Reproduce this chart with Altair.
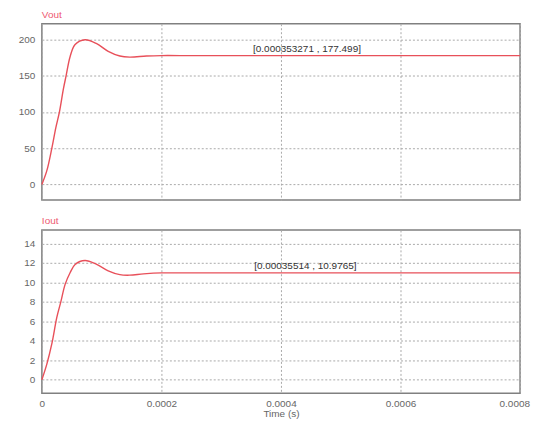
import altair as alt
import pandas as pd

# Vout waveform (time in s, volts)
vout_t = [0, 0.0000083, 0.0000167, 0.0000233, 0.0000294, 0.0000361, 0.0000406,
          0.0000472, 0.0000556, 0.0000722, 0.0000917, 0.000111, 0.0001305,
          0.000147, 0.000175, 0.000200, 0.000250, 0.000300, 0.000400,
          0.000500, 0.000600, 0.000700, 0.000800]
vout_v = [0, 19, 50, 78, 100, 132, 150, 176, 193, 199.5, 194, 183.5, 177,
          175.5, 177, 177.6, 177.5, 177.5, 177.5, 177.5, 177.5, 177.5, 177.5]

# Iout waveform (time in s, amperes)
iout_t = [0, 0.0000083, 0.0000167, 0.000025, 0.0000317, 0.0000389, 0.0000472,
          0.0000556, 0.0000722, 0.0000917, 0.000111, 0.0001305, 0.000147,
          0.000170, 0.000200, 0.000250, 0.000300, 0.000400, 0.000500,
          0.000600, 0.000700, 0.000800]
iout_v = [0, 1.6, 3.7, 6.4, 8.0, 9.8, 11.0, 11.85, 12.25, 11.85, 11.2, 10.8,
          10.75, 10.88, 10.98, 10.98, 10.98, 10.98, 10.98, 10.98, 10.98, 10.98]

# cursor annotations
vout_ann_t = [0.000353271]
vout_ann_v = [177.499]
vout_ann_text = ["[0.000353271 , 177.499]"]
iout_ann_t = [0.00035514]
iout_ann_v = [10.9765]
iout_ann_text = ["[0.00035514 , 10.9765]"]

x_ticks = [0, 0.0002, 0.0004, 0.0006, 0.0008]
vout_ticks = [0, 50, 100, 150, 200]
iout_ticks = [0, 2, 4, 6, 8, 10, 12, 14]
panel_titles = ["Vout", "Iout"]

LINE = "#e8505a"
TITLE = "#ee5a72"
GRID = "#aaaaaa"
LABEL = "#666666"
FONT = "Liberation Sans"

xscale = alt.Scale(domain=[0, 0.0008], nice=False, zero=False)


def panel(ts, vs, ann_t, ann_v, ann_text, title, ydom, yticks, height, bottom):
    df = pd.DataFrame({"t": ts, "v": vs})
    if bottom:
        xaxis = alt.Axis(values=x_ticks, grid=True, gridDash=[2, 2], gridColor=GRID,
                         ticks=False, domain=False, labelFlush=False, labelOverlap=False,
                         labelExpr="datum.value == 0 ? '0' : format(datum.value, '.4f')",
                         labelAlign={"condition": {"test": "datum.value > 0.00079", "value": "right"},
                                     "value": "center"},
                         labelOffset={"condition": {"test": "datum.value > 0.00079", "value": 9.5},
                                      "value": 0},
                         labelFontSize=10, labelColor=LABEL, labelFont=FONT, labelPadding=5,
                         title="Time (s)", titleFontSize=10, titleFontWeight="normal",
                         titleColor=LABEL, titleFont=FONT, titlePadding=0)
    else:
        xaxis = alt.Axis(values=x_ticks, grid=True, gridDash=[2, 2], gridColor=GRID,
                         ticks=False, domain=False, labels=False, title="")
    yaxis = alt.Axis(values=yticks, grid=True, gridDash=[2, 2], gridColor=GRID,
                     ticks=False, domain=False, labelOverlap=False, labelFontSize=10,
                     labelColor=LABEL, labelFont=FONT, labelPadding=7, title="")
    yscale = alt.Scale(domain=ydom, nice=False, zero=False)
    line = alt.Chart(df).mark_line(color=LINE, strokeWidth=1.4, interpolate="catmull-rom").encode(
        x=alt.X("t:Q", scale=xscale, axis=xaxis),
        y=alt.Y("v:Q", scale=yscale, axis=yaxis),
    )
    adf = pd.DataFrame({"t": ann_t, "v": ann_v, "label": ann_text})
    ann = alt.Chart(adf).mark_text(align="left", baseline="bottom", dy=-2, fontSize=10,
                                   font=FONT, color="#333333").encode(
        x=alt.X("t:Q", scale=xscale, axis=xaxis),
        y=alt.Y("v:Q", scale=yscale, axis=yaxis),
        text="label:N",
    )
    tdf = pd.DataFrame({"name": [title]})
    ttl = alt.Chart(tdf).mark_text(align="left", baseline="top", fontSize=10, font=FONT,
                                   color=TITLE).encode(
        x=alt.value(0), y=alt.value(-14), text="name:N")
    return alt.layer(line, ann, ttl).properties(width=480, height=height)


top = panel(vout_t, vout_v, vout_ann_t, vout_ann_v, vout_ann_text, panel_titles[0],
            [-21.5, 221.5], vout_ticks, 177, False)
bot = panel(iout_t, iout_v, iout_ann_t, iout_ann_v, iout_ann_text, panel_titles[1],
            [-1.4, 15.4], iout_ticks, 164, True)

chart = alt.vconcat(top, bot, spacing=30, bounds="flush").properties(
    padding={"left": 9, "top": 0, "right": 0, "bottom": -1},
    background="white",
).configure_view(stroke="#808080", strokeWidth=1.5)

chart.save("out.html", embed_options={"renderer": "svg", "actions": False})
